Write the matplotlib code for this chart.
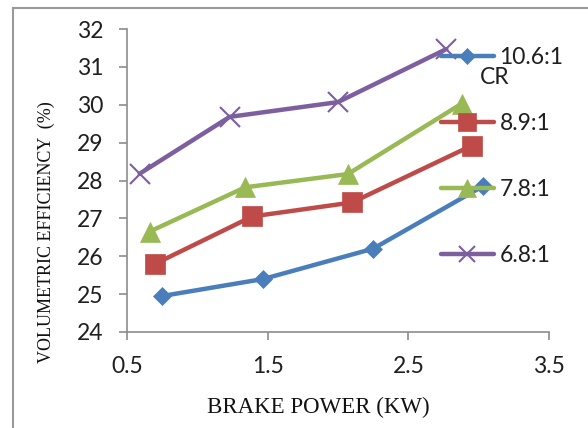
import matplotlib
matplotlib.use("Agg")
import matplotlib.pyplot as plt
from matplotlib.lines import Line2D

# Data
labels = ["10.6:1", "8.9:1", "7.8:1", "6.8:1"]
x_106 = [0.75, 1.47, 2.25, 3.03]
y_106 = [24.95, 25.40, 26.20, 27.85]
x_89 = [0.70, 1.39, 2.10, 2.95]
y_89 = [25.80, 27.05, 27.42, 28.92]
x_78 = [0.66, 1.34, 2.07, 2.88]
y_78 = [26.65, 27.82, 28.17, 30.03]
x_68 = [0.59, 1.23, 2.00, 2.77]
y_68 = [28.18, 29.68, 30.07, 31.47]
xticks = [0.5, 1.5, 2.5, 3.5]
yticks = [24, 25, 26, 27, 28, 29, 30, 31, 32]

colors = ["#4A7EBB", "#BE4B48", "#98B954", "#7D5FA0"]
markers = ["D", "s", "^", "x"]
msizes = [9.5, 15, 15, 14]

W, H = 588, 428
fig = plt.figure(figsize=(W / 100, H / 100), dpi=100)
ax = fig.add_axes([127 / W, 1 - 332 / H, (549 - 127) / W, (332 - 29) / H])

series = [(x_106, y_106), (x_89, y_89), (x_78, y_78), (x_68, y_68)]
handles = []
for (xs, ys), c, m, ms, lab in zip(series, colors, markers, msizes, labels):
    ln, = ax.plot(xs, ys, color=c, lw=3.2, marker=m, markersize=ms,
                  markeredgewidth=1.5 if m == "x" else 0.5,
                  markeredgecolor=c, markerfacecolor=c, label=lab,
                  solid_capstyle="round", clip_on=False)
    handles.append(ln)

ax.set_xlim(0.5, 3.5)
ax.set_ylim(24, 32)
ax.set_xticks(xticks)
ax.set_yticks(yticks)
ax.set_xticklabels([str(v) for v in xticks])
ax.set_yticklabels([str(v) for v in yticks])

for s in ["top", "right"]:
    ax.spines[s].set_visible(False)
for s in ["left", "bottom"]:
    ax.spines[s].set_color("#8C8C8C")
    ax.spines[s].set_linewidth(1.2)
ax.tick_params(axis="both", direction="out", length=6, width=1.2,
               color="#8C8C8C", labelsize=16.5, labelcolor="#1f1f1f")
ax.tick_params(axis="y", pad=11)
ax.tick_params(axis="x", pad=11)
for t in ax.get_xticklabels() + ax.get_yticklabels():
    t.set_fontfamily("Lato")

leg = ax.legend(handles=handles, loc="upper left",
                bbox_to_anchor=(441 / W, 1 - 47 / H),
                bbox_transform=fig.transFigure, frameon=False,
                prop={"family": "Lato", "size": 16.5},
                handlelength=2.3, handletextpad=0.25, labelspacing=1.97,
                borderpad=0, borderaxespad=0, markerscale=0.85)
for t in leg.get_texts():
    t.set_color("#1f1f1f")

fig.text(480 / W, 1 - 77 / H, "CR", ha="left", va="center",
         fontsize=16.5, family="Lato", color="#1f1f1f")

fig.text(318 / W, 1 - 407 / H, "BRAKE POWER (KW)", ha="center", va="center",
         fontsize=16.5, family="Liberation Serif", color="#111111")
fig.text(46 / W, 1 - 232 / H, "VOLUMETRIC EFFICIENCY  (%)", ha="center",
         va="center", rotation=90, fontsize=13, family="Liberation Serif",
         color="#111111")

# outer chart border (extends past right/bottom of image)
fig.add_artist(Line2D([13 / W, 13 / W], [1 - 8 / H, -0.05],
                      transform=fig.transFigure, color="#9A9A9A", lw=1.5))
fig.add_artist(Line2D([13 / W, 1.05], [1 - 8 / H, 1 - 8 / H],
                      transform=fig.transFigure, color="#9A9A9A", lw=1.5))

fig.savefig("out.png", dpi=100)
